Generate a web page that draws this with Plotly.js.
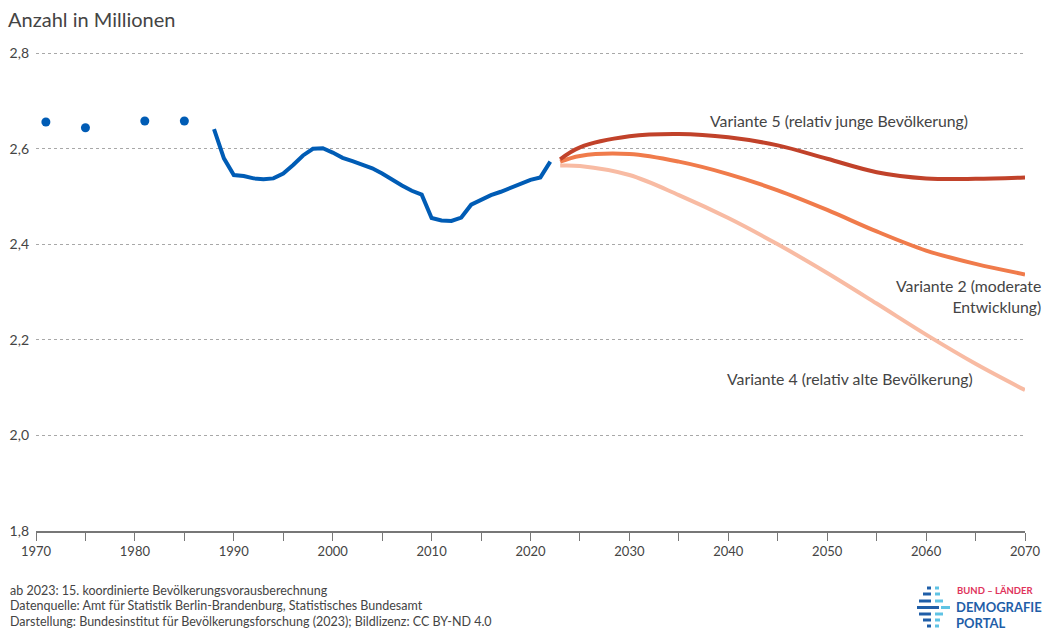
<!DOCTYPE html>
<html>
<head>
<meta charset="utf-8">
<script src="https://cdn.plot.ly/plotly-3.0.1.min.js"></script>
<style>
html,body{margin:0;padding:0;background:#fff;}
#chart{width:1045px;height:630px;}
</style>
</head>
<body>
<div id="chart"></div>
<script>
// ---- Data ----
const dotYears = [1971, 1975, 1981, 1985];
const dotValues = [2.656, 2.644, 2.658, 2.658];

const histYears = [1988,1989,1990,1991,1992,1993,1994,1995,1996,1997,1998,1999,2000,2001,2002,2003,2004,2005,2006,2007,2008,2009,2010,2011,2012,2013,2014,2015,2016,2017,2018,2019,2020,2021,2022];
const histValues = [2.641,2.580,2.545,2.543,2.538,2.536,2.538,2.548,2.566,2.586,2.600,2.601,2.592,2.581,2.574,2.566,2.559,2.548,2.535,2.523,2.512,2.504,2.455,2.450,2.449,2.456,2.483,2.494,2.503,2.510,2.519,2.527,2.535,2.540,2.573];

const projYears = [2023,2025,2030,2035,2040,2045,2050,2055,2060,2065,2070];
const variante5 = [2.578,2.603,2.626,2.631,2.624,2.607,2.579,2.551,2.538,2.537,2.540];
const variante2 = [2.573,2.585,2.589,2.573,2.547,2.513,2.472,2.427,2.387,2.359,2.337];
const variante4 = [2.565,2.564,2.545,2.503,2.455,2.400,2.340,2.276,2.211,2.150,2.095];

const xTickVals = [1970,1980,1990,2000,2010,2020,2030,2040,2050,2060,2070];
const yTickVals = [1.8,2.0,2.2,2.4,2.6,2.8];

const labelV5 = 'Variante 5 (relativ junge Bevölkerung)';
const labelV2 = 'Variante 2 (moderate<br>Entwicklung)';
const labelV4 = 'Variante 4 (relativ alte Bevölkerung)';
const footerLines = [
  'ab 2023: 15. koordinierte Bevölkerungsvorausberechnung',
  'Datenquelle: Amt für Statistik Berlin-Brandenburg, Statistisches Bundesamt',
  'Darstellung: Bundesinstitut für Bevölkerungsforschung (2023); Bildlizenz: CC BY-ND 4.0'
];

// ---- Layout helpers ----
const W = 1045, H = 630;
const M = {l: 36, r: 20, t: 52, b: 99};
const PW = W - M.l - M.r, PH = H - M.t - M.b;
const px = x => (x - M.l) / PW;
const py = y => (H - M.b - y) / PH;

const FONT = 'Lato, "Open Sans", sans-serif';
const TXT = '#444444';
const BLUE = '#005cb5';
const C5 = '#c1422a', C2 = '#f07b4b', C4 = '#f8bba3';

const traces = [
  {x: dotYears, y: dotValues, mode: 'markers', type: 'scatter',
   marker: {color: BLUE, size: 9}},
  {x: histYears, y: histValues, mode: 'lines', type: 'scatter',
   line: {color: BLUE, width: 4}},
  {x: projYears, y: variante4, mode: 'lines', type: 'scatter',
   line: {color: C4, width: 4, shape: 'spline', smoothing: 1}},
  {x: projYears, y: variante2, mode: 'lines', type: 'scatter',
   line: {color: C2, width: 4, shape: 'spline', smoothing: 1}},
  {x: projYears, y: variante5, mode: 'lines', type: 'scatter',
   line: {color: C5, width: 4, shape: 'spline', smoothing: 1}}
];

const annotations = [
  {x: px(708), y: py(121), xref: 'paper', yref: 'paper', text: labelV5, showarrow: false,
   xanchor: 'left', yanchor: 'middle', font: {family: FONT, size: 15.8, color: TXT}},
  {x: px(1043), y: py(295.5), xref: 'paper', yref: 'paper', text: labelV2, showarrow: false,
   xanchor: 'right', yanchor: 'middle', align: 'right', font: {family: FONT, size: 15.8, color: TXT}},
  {x: px(725), y: py(378), xref: 'paper', yref: 'paper', text: labelV4, showarrow: false,
   xanchor: 'left', yanchor: 'middle', font: {family: FONT, size: 15.8, color: TXT}}
];
footerLines.forEach((t, i) => {
  annotations.push({x: px(8), y: py(590 + i * 15.5), xref: 'paper', yref: 'paper', text: t,
    showarrow: false, xanchor: 'left', yanchor: 'middle',
    font: {family: FONT, size: 12.5, color: TXT}});
});
// logo text
annotations.push({x: px(955), y: py(590), xref: 'paper', yref: 'paper', text: '<b>BUND – LÄNDER</b>',
  showarrow: false, xanchor: 'left', yanchor: 'middle', font: {family: FONT, size: 9.5, color: '#e0345c'}});
annotations.push({x: px(954), y: py(607), xref: 'paper', yref: 'paper', text: '<b>DEMOGRAFIE</b>',
  showarrow: false, xanchor: 'left', yanchor: 'middle', font: {family: FONT, size: 13, color: '#1f5ea8'}});
annotations.push({x: px(954), y: py(623), xref: 'paper', yref: 'paper', text: '<b>PORTAL</b>',
  showarrow: false, xanchor: 'left', yanchor: 'middle', font: {family: FONT, size: 13, color: '#1f5ea8'}});

// logo bars
const logoRows = [
  [588, 927, 931, 935, 939],
  [594, 923, 931, 935, 940],
  [601, 919, 931, 935, 943],
  [607.5, 917, 939, 941, 950],
  [614, 919, 931, 935, 943],
  [620, 923, 931, 935, 940],
  [626, 927, 931, 935, 939]
];
const shapes = [];
logoRows.forEach(r => {
  shapes.push({type: 'rect', xref: 'paper', yref: 'paper', x0: px(r[1]), x1: px(r[2]),
    y0: py(r[0] - 1.5), y1: py(r[0] + 1.5), fillcolor: '#1f5ea8', line: {width: 0}});
  shapes.push({type: 'rect', xref: 'paper', yref: 'paper', x0: px(r[3]), x1: px(r[4]),
    y0: py(r[0] - 1.5), y1: py(r[0] + 1.5), fillcolor: '#5fc3e4', line: {width: 0}});
});

const layout = {
  width: W, height: H,
  margin: M,
  paper_bgcolor: '#fff', plot_bgcolor: '#fff',
  showlegend: false,
  separators: ',.',
  font: {family: FONT, color: TXT},
  title: {text: 'Anzahl in Millionen', x: 8 / W, xanchor: 'left', xref: 'container',
    y: 1 - 20 / H, yanchor: 'middle', yref: 'container',
    font: {family: FONT, size: 20, color: TXT}},
  xaxis: {range: [1970, 2070], tickvals: xTickVals, ticks: 'outside', ticklen: 8,
    tickcolor: '#777', tickwidth: 1, showline: true, linecolor: '#777', linewidth: 1.5,
    showgrid: false, zeroline: false, fixedrange: true,
    tickfont: {family: FONT, size: 13, color: TXT},
    minor: {dtick: 5, tick0: 1970, ticks: 'outside', ticklen: 8, tickcolor: '#777', showgrid: false}},
  yaxis: {range: [1.8, 2.8025], tickvals: yTickVals, tickformat: '.1f', showgrid: true,
    gridcolor: '#a8a8a8', griddash: 'dot', gridwidth: 1, zeroline: false, showline: false,
    ticks: '', ticklabelstandoff: 6, fixedrange: true,
    tickfont: {family: FONT, size: 14, color: TXT}},
  annotations: annotations,
  shapes: shapes
};

Plotly.newPlot('chart', traces, layout, {displayModeBar: false, staticPlot: true});
</script>
</body>
</html>
